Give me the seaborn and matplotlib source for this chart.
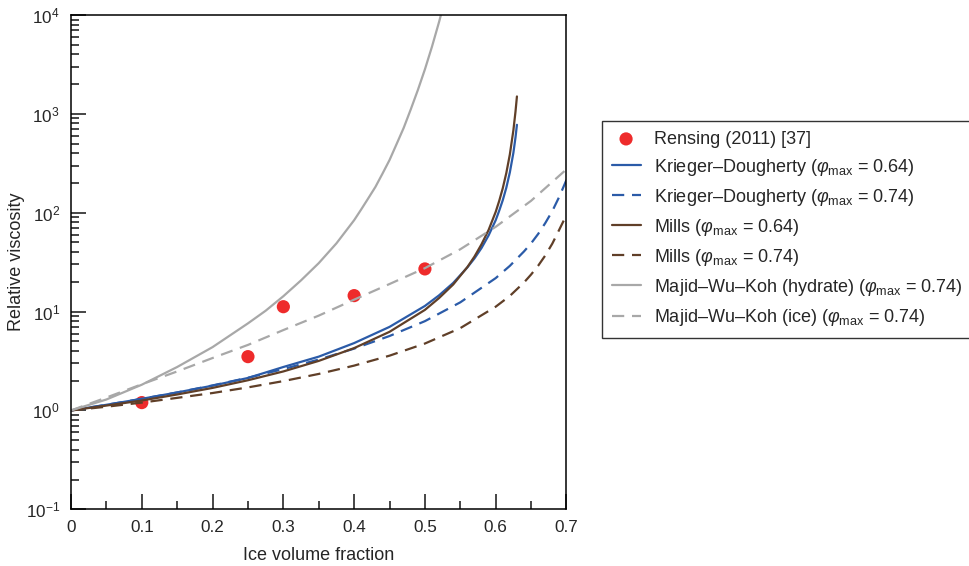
import numpy as np
import pandas as pd
import seaborn as sns
import matplotlib
matplotlib.use("Agg")
import matplotlib.pyplot as plt
from matplotlib.ticker import LogLocator, FixedLocator, FuncFormatter

# Values
phi_pts = [0.10, 0.25, 0.30, 0.40, 0.50]
visc_pts = [1.2, 3.5, 11.2, 14.5, 27.0]

kd64_x = [0, 0.05, 0.10, 0.15, 0.20, 0.25, 0.30, 0.35, 0.40, 0.45, 0.50, 0.52, 0.54, 0.56, 0.57,
          0.58, 0.59, 0.60, 0.605, 0.61, 0.615, 0.62, 0.625, 0.628, 0.63]
kd64_y = [1.0, 1.14, 1.31, 1.52, 1.78, 2.13, 2.75, 3.5, 4.8, 7.0, 11.4, 14.6, 19.5, 28, 34.5,
          44, 59, 84, 105, 134, 179, 256, 404, 580, 775]

kd74_x = [0, 0.05, 0.10, 0.15, 0.20, 0.25, 0.30, 0.35, 0.40, 0.45, 0.50, 0.55, 0.60, 0.62, 0.64,
          0.65, 0.66, 0.67, 0.68, 0.69, 0.70]
kd74_y = [1.0, 1.14, 1.31, 1.52, 1.79, 2.14, 2.62, 3.27, 4.22, 5.66, 8.0, 12.4, 21.8, 29, 40.6,
          49, 61, 78.5, 104, 146, 215]

mills64_x = [0, 0.05, 0.10, 0.15, 0.20, 0.25, 0.30, 0.35, 0.40, 0.45, 0.50, 0.52, 0.54, 0.56, 0.57,
             0.58, 0.59, 0.60, 0.605, 0.61, 0.615, 0.62, 0.625, 0.628, 0.63]
mills64_y = [1.0, 1.12, 1.26, 1.45, 1.69, 2.02, 2.48, 3.17, 4.27, 6.24, 10.4, 13.7, 18.8, 28.2, 36,
             48, 67, 102, 132, 177, 252, 389, 683, 1058, 1500]

mills74_x = [0, 0.05, 0.10, 0.15, 0.20, 0.25, 0.30, 0.35, 0.40, 0.45, 0.50, 0.55, 0.60, 0.62, 0.64,
             0.65, 0.66, 0.67, 0.68, 0.69, 0.70]
mills74_y = [1.0, 1.09, 1.20, 1.34, 1.50, 1.71, 1.98, 2.34, 2.84, 3.58, 4.75, 6.8, 11.2, 14.4, 19.7,
             23.7, 29.1, 36.9, 48.7, 67.8, 95]

mwk_h_x = [0, 0.05, 0.10, 0.15, 0.20, 0.25, 0.275, 0.30, 0.325, 0.35, 0.375, 0.40, 0.41, 0.42,
           0.43, 0.44, 0.45, 0.46, 0.47, 0.48, 0.49, 0.50, 0.51, 0.52, 0.53]
mwk_h_y = [1.0, 1.29, 1.82, 2.75, 4.37, 7.6, 10.2, 14.3, 20.7, 30.9, 49, 84, 108, 140,
           182, 248, 341, 495, 721, 1110, 1740, 2820, 4790, 8510, 15800]

mwk_i_x = [0, 0.05, 0.10, 0.15, 0.20, 0.25, 0.30, 0.35, 0.40, 0.45, 0.50, 0.55, 0.60, 0.65, 0.70]
mwk_i_y = [1.0, 1.35, 1.84, 2.48, 3.39, 4.6, 6.5, 9.1, 13.2, 19, 27.5, 42.7, 72, 132, 275]

BLUE = "#2b5ba8"
BROWN = "#603f28"
GREY = "#a8a8a8"
RED = "#ee2b2b"
DASH = (0, (5.5, 3.5))

sns.set_style("ticks")
plt.rcParams["font.family"] = ["Liberation Sans", "DejaVu Sans"]
plt.rcParams["mathtext.fontset"] = "custom"
plt.rcParams["mathtext.rm"] = "Liberation Sans"
plt.rcParams["mathtext.it"] = "Liberation Sans:italic"
plt.rcParams["mathtext.bf"] = "Liberation Sans:bold"

fig = plt.figure(figsize=(9.7, 5.66), dpi=100)
ax = fig.add_axes([0.0732, 0.1002, 0.5108, 0.8733])

sub = r"$\varphi_{\mathrm{max}}$"
sns.scatterplot(x=phi_pts, y=visc_pts, color=RED, s=90, edgecolor="none",
                label="Rensing (2011) [37]", ax=ax, zorder=1)

series = [
    (kd64_x, kd64_y, BLUE, "-", f"Krieger–Dougherty ({sub} = 0.64)"),
    (kd74_x, kd74_y, BLUE, DASH, f"Krieger–Dougherty ({sub} = 0.74)"),
    (mills64_x, mills64_y, BROWN, "-", f"Mills ({sub} = 0.64)"),
    (mills74_x, mills74_y, BROWN, DASH, f"Mills ({sub} = 0.74)"),
    (mwk_h_x, mwk_h_y, GREY, "-", f"Majid–Wu–Koh (hydrate) ({sub} = 0.74)"),
    (mwk_i_x, mwk_i_y, GREY, DASH, f"Majid–Wu–Koh (ice) ({sub} = 0.74)"),
]
for xs, ys, col, ls, lab in series:
    sns.lineplot(x=xs, y=ys, color=col, linestyle=ls, linewidth=1.6,
                 label=lab, ax=ax, sort=False, estimator=None)

ax.set_yscale("log")
ax.set_xlim(0, 0.7)
ax.set_ylim(1e-1, 1e4)

ax.xaxis.set_major_locator(FixedLocator(np.arange(0, 0.71, 0.1)))
ax.xaxis.set_minor_locator(FixedLocator(np.arange(0.05, 0.7, 0.1)))
ax.xaxis.set_major_formatter(FuncFormatter(lambda v, p: "0" if abs(v) < 1e-9 else f"{v:.1f}"))
ax.yaxis.set_major_locator(LogLocator(base=10, numticks=10))
ax.yaxis.set_minor_locator(LogLocator(base=10, subs=np.arange(2, 10), numticks=20))

ax.tick_params(which="major", direction="in", length=11, width=1.2, labelsize=12.3, pad=8)
ax.tick_params(which="minor", direction="in", length=6, width=1.2)
ax.tick_params(top=False, right=False, which="both")
for sp in ax.spines.values():
    sp.set_visible(True)
    sp.set_color("black")
    sp.set_linewidth(1.1)

ax.set_xlabel("Ice volume fraction", fontsize=13, labelpad=8)
ax.set_ylabel("Relative viscosity", fontsize=13)
ax.yaxis.set_label_coords(-0.092, 0.5)

# legend sits outside the axes, to the right
leg = ax.legend(loc="upper left", bbox_to_anchor=(0.6203, 0.7867),
                bbox_transform=fig.transFigure, fontsize=13, frameon=True,
                fancybox=False, edgecolor="black", handlelength=1.6,
                borderpad=0.55, labelspacing=0.5, handletextpad=0.75,
                borderaxespad=0)
leg.get_frame().set_linewidth(1.0)

fig.savefig("out.png", dpi=100)
